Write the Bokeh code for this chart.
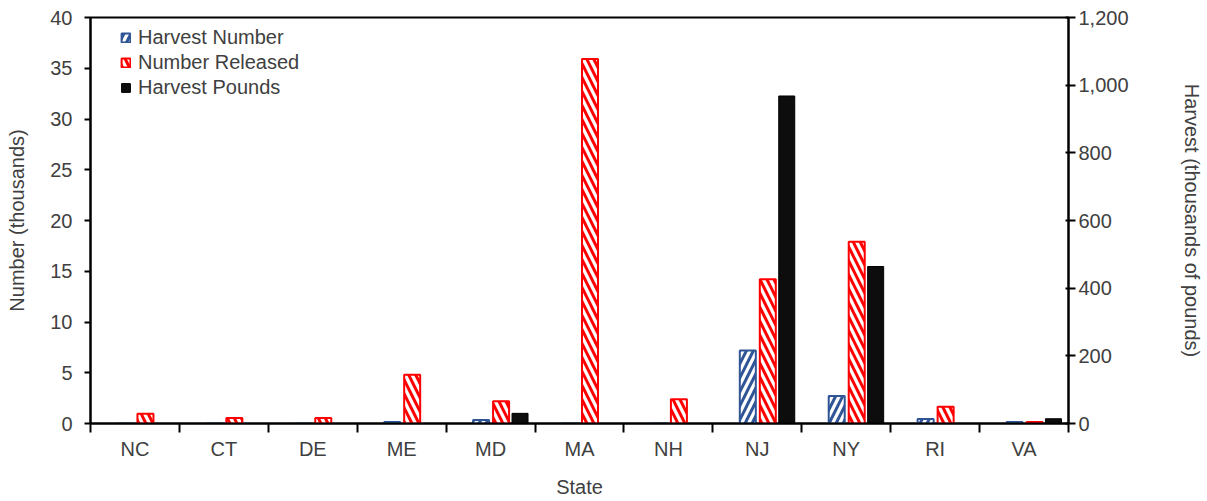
from bokeh.plotting import figure
from bokeh.models import (Range1d, LinearAxis, FixedTicker, NumeralTickFormatter,
                          Legend, LegendItem, ColumnDataSource)
from bokeh.transform import dodge
from bokeh.embed import file_html
from bokeh.resources import INLINE

# ---- data ----
states = ["NC", "CT", "DE", "ME", "MD", "MA", "NH", "NJ", "NY", "RI", "VA"]
harvest_number = [0, 0, 0, 0.15, 0.35, 0, 0, 7.2, 2.7, 0.45, 0.15]        # thousands
number_released = [0.95, 0.55, 0.55, 4.8, 2.2, 35.9, 2.4, 14.2, 17.9, 1.65, 0.15]  # thousands
harvest_pounds = [0, 0, 0, 0, 30, 0, 0, 968, 464, 0, 14]                  # thousands of lbs

left_ticks = [0, 5, 10, 15, 20, 25, 30, 35, 40]
right_ticks = [0, 200, 400, 600, 800, 1000, 1200]

FONT = "Liberation Sans"
TXT = "#404040"
BLUE = "#2F5597"
RED = "#FF0000"

centers = [i + 0.5 for i in range(len(states))]
src = ColumnDataSource(dict(x=centers, hn=harvest_number, nr=number_released, hp=harvest_pounds))

p = figure(width=1207, height=501, output_backend="svg", toolbar_location=None,
           x_range=Range1d(0, len(states)), y_range=Range1d(0, 40),
           min_border_left=90, min_border_right=139, min_border_top=17, min_border_bottom=78,
           y_axis_location="left")
p.extra_y_ranges = {"lbs": Range1d(0, 1200)}
p.grid.visible = False
p.outline_line_color = "black"
p.outline_line_width = 2
p.background_fill_color = "white"
p.border_fill_color = "white"

bw = 0.18
r1 = p.vbar(x=dodge("x", -0.107), top="hn", width=bw, source=src,
            fill_color="white", line_color=BLUE, line_width=2,
            hatch_pattern="/", hatch_color=BLUE, hatch_scale=14, hatch_weight=3)
r2 = p.vbar(x=dodge("x", 0.118), top="nr", width=bw, source=src,
            fill_color="white", line_color=RED, line_width=2,
            hatch_pattern="\\", hatch_color=RED, hatch_scale=14, hatch_weight=3)
r3 = p.vbar(x=dodge("x", 0.331), top="hp", width=bw, source=src, y_range_name="lbs",
            fill_color="#0d0d0d", line_color="#000000", line_width=1)

# x axis: category labels at centres, ticks between categories
xa = p.xaxis[0]
xa.ticker = FixedTicker(ticks=centers, minor_ticks=list(range(len(states) + 1)))
xa.major_label_overrides = {c: s for c, s in zip(centers, states)}
xa.major_tick_out = 0
xa.major_tick_in = 0
xa.minor_tick_out = 9
xa.minor_tick_in = 0
xa.minor_tick_line_color = "black"
xa.minor_tick_line_width = 2
xa.axis_line_width = 2
xa.axis_line_color = "black"
xa.major_label_standoff = 5
xa.axis_label = "State"
xa.axis_label_standoff = 13

# left axis
ya = p.yaxis[0]
ya.ticker = FixedTicker(ticks=left_ticks)
ya.minor_tick_line_color = None
ya.major_tick_out = 6
ya.major_tick_in = 0
ya.major_tick_line_width = 2
ya.axis_line_width = 2
ya.axis_line_color = "black"
ya.major_label_standoff = 12
ya.axis_label = "Number (thousands)"
ya.axis_label_standoff = 19

# right axis
ra = LinearAxis(y_range_name="lbs", ticker=FixedTicker(ticks=right_ticks),
                formatter=NumeralTickFormatter(format="0,0"))
ra.minor_tick_line_color = None
ra.major_tick_out = 7
ra.major_tick_in = 3
ra.major_tick_line_width = 2
ra.axis_line_width = 2
ra.axis_line_color = "black"
ra.major_label_standoff = 3
ra.axis_label = "Harvest (thousands of pounds)"
ra.axis_label_standoff = 49
p.add_layout(ra, "right")

for ax in [xa, ya, ra]:
    ax.major_label_text_font = FONT
    ax.major_label_text_font_size = "20px"
    ax.major_label_text_color = TXT
    ax.axis_label_text_font = FONT
    ax.axis_label_text_font_size = "20px"
    ax.axis_label_text_color = TXT
    ax.axis_label_text_font_style = "normal"

legend = Legend(items=[LegendItem(label="Harvest Number", renderers=[r1]),
                       LegendItem(label="Number Released", renderers=[r2]),
                       LegendItem(label="Harvest Pounds", renderers=[r3])],
                location=(30, 324), padding=0, margin=0, spacing=2,
                glyph_width=11, glyph_height=11, label_standoff=7,
                label_text_font=FONT, label_text_font_size="20px", label_text_color=TXT,
                border_line_color=None, background_fill_alpha=0)
p.add_layout(legend)

open("out.html", "w").write(file_html(p, INLINE))
